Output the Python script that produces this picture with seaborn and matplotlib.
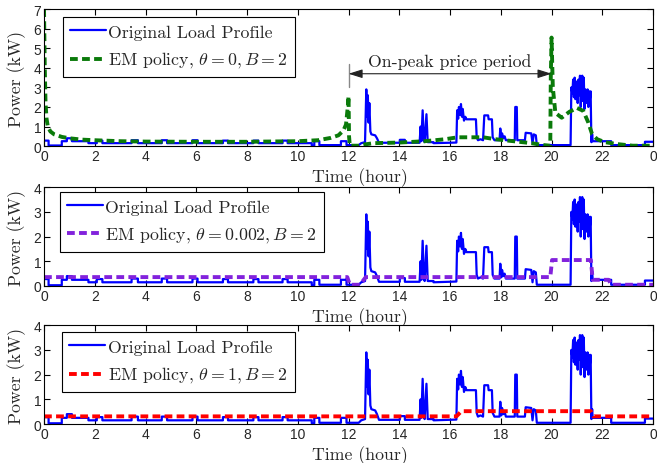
import numpy as np
import pandas as pd
import seaborn as sns
import matplotlib
matplotlib.use("Agg")
import matplotlib.pyplot as plt

# 原始负荷曲线 (hour, kW)，三个子图共用
load_t = [0, 0.18, 0.18, 0.7, 0.7, 0.9, 0.9, 1.1, 1.1, 1.75, 1.75, 2.08, 2.08, 2.3, 2.3,
          3.45, 3.45, 3.7, 3.7, 4.64, 4.64, 4.85, 4.85, 5.85, 5.85, 6.05, 6.05, 7.05, 7.05,
          7.25, 7.25, 8.25, 8.25, 8.45, 8.45, 9.4, 9.4, 9.6, 9.6, 10.55, 10.55, 10.65, 10.65,
          10.85, 10.85, 11.7, 11.7, 11.92, 11.92, 12.4, 12.5, 12.65, 12.7, 12.73, 12.76, 12.79,
          12.82, 12.86, 12.9, 13.05, 13.12, 13.2, 14.02, 14.02, 14.22, 14.22, 14.8, 14.84,
          14.87, 14.92, 14.97, 15.0, 15.07, 15.12, 15.35, 15.35, 16.25, 16.28, 16.32, 16.35,
          16.4, 16.43, 16.47, 16.5, 16.55, 16.6, 16.65, 17.02, 17.05, 17.1, 17.2, 17.3, 17.35,
          17.5, 17.52, 17.65, 17.68, 17.75, 17.95, 17.98, 18.02, 18.05, 18.1, 18.15, 18.2,
          18.55, 18.57, 18.63, 18.65, 18.95, 18.98, 19.2, 19.25, 19.3, 19.38, 19.42, 20.75,
          20.78, 20.82, 20.85, 20.88, 20.91, 20.94, 20.97, 21.0, 21.03, 21.06, 21.09, 21.12,
          21.15, 21.18, 21.21, 21.24, 21.27, 21.3, 21.33, 21.36, 21.39, 21.42, 21.45, 21.48,
          21.51, 21.54, 21.57, 21.6, 21.62, 22.35, 22.35, 23.68, 23.68, 24]
load_kw = [0.28, 0.28, 0.03, 0.03, 0.25, 0.25, 0.4, 0.4, 0.25, 0.25, 0.15, 0.15, 0.28, 0.28, 0.15,
           0.15, 0.3, 0.3, 0.15, 0.15, 0.3, 0.3, 0.15, 0.15, 0.3, 0.3, 0.15, 0.15, 0.28,
           0.28, 0.15, 0.15, 0.28, 0.28, 0.15, 0.15, 0.28, 0.28, 0.15, 0.15, 0.03, 0.03, 0.25,
           0.25, 0.05, 0.05, 0.25, 0.25, 0.05, 0.05, 0.15, 0.2, 2.9, 1.5, 2.6, 1.2,
           2.2, 0.75, 0.6, 0.55, 0.4, 0.17, 0.17, 0.32, 0.32, 0.17, 0.17, 1.0,
           0.25, 1.83, 0.3, 0.2, 1.63, 0.2, 0.2, 0.15, 0.18, 1.83, 1.4, 2.0,
           1.6, 2.15, 1.5, 1.9, 1.3, 1.5, 1.37, 1.37, 0.45, 0.3, 0.35, 0.3, 1.57,
           1.57, 1.37, 1.37, 0.45, 0.3, 0.3, 0.9, 0.35, 0.65, 0.4, 0.5, 0.3,
           0.3, 2.0, 2.0, 0.3, 0.3, 0.68, 0.65, 0.15, 0.6, 0.55, 0.05, 0.05,
           3.0, 2.7, 3.4, 2.5, 3.5, 2.4, 3.3, 3.0, 2.2, 3.4, 2.6, 3.6,
           2.0, 3.3, 3.6, 2.3, 3.5, 1.9, 2.9, 2.8, 2.2, 2.9, 2.0, 2.8,
           2.4, 2.8, 0.2, 0.6, 0.25, 0.25, 0.05, 0.05, 0.22, 0.22]

# EM policy, theta = 0
em0_t = [0, 0.03, 0.06, 0.1, 0.15, 0.25, 0.4, 0.7, 1.0, 1.5, 2.0, 3, 4, 6, 8, 10, 10.8, 11.3,
         11.6, 11.8, 11.9, 11.97, 12.0, 12.02, 12.05, 12.4, 12.6, 13, 14, 15, 15.8, 16.3,
         17.3, 17.8, 18.5, 19.2, 19.7, 19.95, 19.97, 20.0, 20.05, 20.15, 20.4, 20.7, 21.0,
         21.25, 21.45, 21.6, 21.8, 22.1, 22.6, 23.2, 24]
em0_kw = [7, 4.0, 2.2, 1.4, 1.0, 0.75, 0.6, 0.47, 0.4, 0.33, 0.3, 0.25, 0.23, 0.22, 0.22, 0.25,
          0.3, 0.42, 0.55, 0.8, 1.1, 2.0, 2.55, 0.5, 0.02, 0.02, 0.08, 0.15, 0.18, 0.25,
          0.35, 0.45, 0.45, 0.35, 0.25, 0.15, 0.05, 0.02, 3.5, 5.55, 3.0, 1.7, 1.45, 1.75,
          1.95, 1.8, 1.2, 0.6, 0.35, 0.2, 0.1, 0.02, 0.02]

# EM policy, theta = 0.002
em002_t = [0, 11.95, 12.05, 12.45, 12.68, 19.95, 20.02, 21.55, 21.62, 22.25, 22.35, 24]
em002_kw = [0.36, 0.36, 0.05, 0.05, 0.36, 0.36, 1.05, 1.05, 0.25, 0.25, 0.05, 0.05]

# EM policy, theta = 1
em1_t = [0, 16.25, 16.45, 21.55, 21.65, 24]
em1_kw = [0.31, 0.31, 0.52, 0.52, 0.31, 0.31]

peak_start, peak_end = 12, 20
xticks = list(range(0, 25, 2))
xtick_labels = [str(v % 24) for v in xticks]

sns.set_theme(style="ticks", rc={
    "xtick.direction": "in", "ytick.direction": "in",
    "xtick.top": True, "ytick.right": True,
    "xtick.major.size": 4, "ytick.major.size": 4,
    "axes.linewidth": 0.8, "axes.edgecolor": "black",
})
plt.rcParams["font.family"] = ["Liberation Sans", "DejaVu Sans"]
plt.rcParams["mathtext.fontset"] = "cm"
serif = "cmr10"
fs = 12.8

fig = plt.figure(figsize=(6.57, 4.64), dpi=100)
ax1 = fig.add_axes([0.067, 0.683, 0.927, 0.295])
ax2 = fig.add_axes([0.067, 0.3815, 0.927, 0.213])
ax3 = fig.add_axes([0.067, 0.084, 0.927, 0.213])

dash = (0, (2.0, 1.1))
panels = [
    (ax1, em0_t, em0_kw, "#0a7a0a", r"EM policy, $\theta = 0, B = 2$", 7, (0.031, 0.945)),
    (ax2, em002_t, em002_kw, "#8222dc", r"EM policy, $\theta = 0.002, B = 2$", 4, (0.026, 0.955)),
    (ax3, em1_t, em1_kw, "#ff0000", r"EM policy, $\theta = 1, B = 2$", 4, (0.030, 0.935)),
]

for ax, et, ek, col, lab, ymax, anchor in panels:
    sns.lineplot(x=load_t, y=load_kw, ax=ax, color="#0000ff", lw=1.6, sort=False,
                 estimator=None, label="Original Load Profile")
    sns.lineplot(x=et, y=ek, ax=ax, color=col, lw=2.8, linestyle=dash, sort=False,
                 estimator=None, label=lab)
    ax.set_xlim(0, 24)
    ax.set_ylim(0, ymax)
    ax.set_xticks(xticks)
    ax.set_xticklabels(xtick_labels)
    ax.set_yticks(range(0, ymax + 1))
    ax.tick_params(labelsize=10, pad=2, width=0.8, color="black")
    ax.set_xlabel("Time (hour)", fontfamily=serif, fontsize=fs)
    ax.set_ylabel("Power (kW)", fontfamily=serif, fontsize=fs)
    h = ax.get_position().height * 464
    ax.xaxis.set_label_coords(0.519, -21.0 / h)
    ax.yaxis.set_label_coords(-0.03, 0.5)
    leg = ax.legend(loc="upper left", bbox_to_anchor=anchor, borderaxespad=0,
                    prop={"family": serif, "size": fs}, handlelength=2.0,
                    handletextpad=0.15, labelspacing=0.6, fancybox=False,
                    framealpha=1, edgecolor="black")
    leg.get_frame().set_linewidth(0.8)

# 峰时电价区间标注
ax1.plot([peak_start, peak_start], [3.0, 4.2], color="#888888", lw=1.0)
ax1.annotate("", xy=(peak_start, 3.7), xytext=(peak_end, 3.7),
             arrowprops=dict(arrowstyle="<|-|>,head_length=0.7,head_width=0.22",
                             color="#222222", lw=0.8, shrinkA=0, shrinkB=0))
ax1.text((peak_start + peak_end) / 2, 4.36, "On-peak price period", ha="center",
         va="center", fontfamily=serif, fontsize=fs, color="#222222")

fig.savefig("out.png", dpi=100)
